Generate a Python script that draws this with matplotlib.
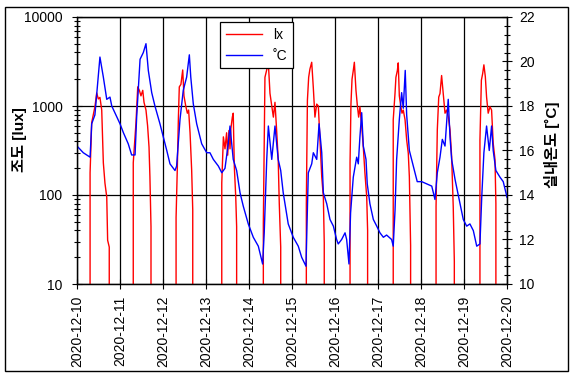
import matplotlib
matplotlib.use('Agg')
import matplotlib.pyplot as plt
import matplotlib.dates as mdates
from matplotlib.ticker import LogLocator, FixedLocator, FixedFormatter, MultipleLocator, NullFormatter
from matplotlib.patches import Rectangle
from datetime import datetime, timedelta

plt.rcParams['font.family'] = ['Liberation Sans', 'Noto Sans CJK KR', 'DejaVu Sans']
plt.rcParams['font.size'] = 10

start = datetime(2020, 12, 10)

# 조도 (lux), 하루 단위 구간; 0 = 야간 (축 아래)
lux_hours = [
    [0, 7.2, 7.3, 8.2, 10.0, 11.0, 11.9, 12.8, 13.8, 14.7, 15.6, 16.6, 17.1, 18.0, 18.4],
    [31.3, 31.4, 32.9, 33.9, 34.8, 35.7, 36.7, 37.4, 38.5, 39.4, 40.2, 40.7, 41.3, 41.9],
    [55.2, 55.3, 56.0, 56.6, 57.1, 58.0, 59.0, 59.7, 60.7, 61.6, 62.3, 63.1, 64.0, 64.6, 65.3],
    [80.7, 80.8, 81.7, 82.6, 83.5, 84.1, 84.8, 85.4, 85.9, 86.7, 87.2, 87.8, 88.6, 89.1, 89.7],
    [103.9, 104.0, 104.5, 104.9, 105.9, 106.8, 107.7, 108.7, 109.6, 110.5, 111.5, 112.3, 112.9, 113.7, 114.8],
    [127.8, 128.0, 128.6, 129.3, 130.0, 131.0, 131.9, 132.8, 133.8, 134.7, 135.6, 136.6, 137.5, 138.0, 138.8],
    [152.0, 152.4, 152.9, 153.5, 154.2, 154.8, 155.7, 156.5, 157.2, 157.9, 158.9, 159.8, 160.7, 161.7, 162.2, 162.8],
    [176.0, 176.5, 177.5, 178.0, 178.8, 179.3, 179.9, 180.7, 181.4, 182.1, 183.1, 184.0, 184.9, 185.5, 186.2, 186.8],
    [200.3, 200.4, 201.1, 201.9, 202.6, 203.5, 204.4, 205.4, 206.3, 207.2, 208.2, 209.1, 210.0, 210.6, 211.1],
    [224.4, 224.9, 225.7, 226.4, 227.1, 227.9, 228.6, 229.5, 230.5, 231.4, 232.3, 233.3, 233.8, 234.2, 240],
]
lux_values = [
    [0, 0, 177, 650, 980, 1400, 1200, 1250, 900, 230, 136, 95, 31, 26, 0],
    [0, 230, 640, 1640, 1500, 1300, 1500, 1100, 900, 600, 345, 160, 44, 0],
    [0, 56, 205, 750, 1640, 1750, 2540, 1300, 1000, 830, 900, 500, 190, 68, 0],
    [0, 136, 450, 330, 500, 280, 530, 330, 560, 750, 830, 210, 95, 44, 0],
    [0, 48, 380, 2100, 2540, 3050, 1390, 1000, 750, 1100, 500, 250, 80, 26, 0],
    [0, 80, 1160, 2100, 2600, 3100, 1600, 750, 1050, 1000, 415, 160, 95, 29, 0],
    [0, 230, 1050, 2000, 2500, 3100, 1500, 1000, 750, 980, 600, 345, 177, 95, 40, 0],
    [0, 700, 1390, 2100, 2500, 3050, 1300, 1000, 830, 900, 700, 415, 295, 160, 27, 0],
    [0, 74, 540, 1260, 1380, 2200, 1380, 830, 900, 760, 540, 270, 73, 18, 0],
    [0, 415, 1950, 2300, 2900, 2140, 1260, 830, 980, 900, 380, 250, 80, 0, 0],
]

# 실내온도 (°C)
temp_hours = [0, 3.5, 7.3, 8.2, 10.0, 12.8, 14.7, 16.6, 18.4, 19.4,
              24.0, 25.9, 28.6, 30.5, 32.4, 33.3, 35.2, 37.0, 38.5, 39.8,
              41.7, 43.5, 46.3, 48.2, 50.1, 51.9, 54.7, 55.6, 57.5, 59.3,
              61.2, 62.7, 63.5, 64.9, 66.8, 69.6, 72.4, 74.2, 76.1, 78.9,
              80.8, 82.6, 84.4, 85.4, 87.2, 89.1, 91.0, 92.8, 95.6, 98.4,
              101.2, 103.6, 104.5, 105.9, 106.8, 108.7, 110.5, 112.3, 113.7, 115.1,
              117.9, 120.7, 123.5, 125.4, 127.8, 129.1, 131.0, 131.9, 133.8, 135.1,
              136.6, 137.5, 139.4, 141.2, 143.1, 144.9, 145.8, 147.7, 149.6, 150.5,
              151.8, 152.7, 154.2, 156.1, 157.0, 157.9, 158.9, 159.8, 161.3, 162.0,
              163.5, 165.4, 167.3, 169.1, 171.0, 172.8, 175.6, 176.5, 177.5, 178.4,
              179.9, 181.2, 182.1, 183.2, 184.0, 185.5, 187.7, 189.9, 192.4, 195.2,
              198.0, 199.8, 201.1, 202.6, 203.9, 205.4, 207.2, 208.2, 209.1, 211.0,
              213.8, 215.6, 217.5, 219.3, 221.2, 223.1, 224.9, 225.9, 227.1, 228.6,
              230.1, 231.4, 232.3, 233.8, 236.1, 237.9, 240.0]
temp_values = [16.2, 15.9, 15.7, 17.2, 17.6, 20.2, 19.3, 18.3, 18.4, 18.0,
               17.2, 16.8, 16.3, 15.8, 15.8, 17.5, 20.1, 20.4, 20.8, 19.6,
               18.6, 18.0, 17.2, 16.6, 16.0, 15.4, 15.1, 15.3, 17.4, 18.7,
               19.3, 20.3, 19.3, 18.1, 17.2, 16.3, 15.9, 15.9, 15.6, 15.3,
               15.0, 15.2, 16.3, 17.1, 15.6, 15.1, 14.1, 13.5, 12.7, 12.1,
               11.7, 10.9, 12.3, 15.6, 17.1, 15.6, 17.1, 15.6, 15.1, 14.1,
               12.7, 12.1, 11.7, 11.2, 10.8, 15.0, 15.4, 15.9, 15.6, 17.2,
               15.9, 14.1, 13.6, 12.9, 12.6, 12.0, 11.8, 12.0, 12.3, 12.0,
               10.9, 13.2, 14.8, 15.7, 15.4, 16.6, 17.7, 16.2, 15.6, 14.5,
               13.6, 12.9, 12.6, 12.3, 12.1, 12.2, 12.0, 11.7, 13.3, 15.6,
               17.4, 18.6, 17.9, 19.6, 17.6, 16.0, 15.3, 14.6, 14.6, 14.5,
               14.4, 13.8, 15.0, 15.7, 16.5, 16.2, 18.3, 16.6, 15.6, 14.7,
               13.6, 12.9, 12.6, 12.7, 12.4, 11.7, 11.8, 13.9, 15.9, 17.1,
               16.0, 17.1, 16.0, 15.1, 14.8, 14.6, 13.9]

lux_ticks = [10, 100, 1000, 10000]
temp_ticks = [10, 12, 14, 16, 18, 20, 22]
day_ticks = [start + timedelta(days=d) for d in range(11)]

lux_t = [start + timedelta(hours=h) for day in lux_hours for h in day]
lux_v = [v for day in lux_values for v in day]
temp_t = [start + timedelta(hours=h) for h in temp_hours]

fig = plt.figure(figsize=(5.75, 3.77), dpi=100)
ax = fig.add_axes([77/575, 1 - 284/377, 430/575, 267/377])
ax2 = ax.twinx()

l1, = ax.plot(lux_t, lux_v, color='#ff0000', lw=1.0, label='lx')
l2, = ax2.plot(temp_t, temp_values, color='#0000ff', lw=1.0, label='˚C')

ax.set_yscale('log')
ax.set_ylim(10, 10000)
ax.yaxis.set_major_locator(FixedLocator(lux_ticks))
ax.yaxis.set_major_formatter(FixedFormatter([str(t) for t in lux_ticks]))
ax.yaxis.set_minor_locator(LogLocator(base=10, subs=range(2, 10)))
ax.yaxis.set_minor_formatter(NullFormatter())

ax2.set_ylim(10, 22)
ax2.yaxis.set_major_locator(FixedLocator(temp_ticks))
ax2.yaxis.set_minor_locator(MultipleLocator(0.4))

ax.set_xlim(day_ticks[0], day_ticks[-1])
ax.xaxis.set_major_locator(mdates.DayLocator())
ax.xaxis.set_major_formatter(mdates.DateFormatter('%Y-%m-%d'))
plt.setp(ax.get_xticklabels(), rotation=90)

ax.grid(True, which='major', color='black', lw=0.9)
for a in (ax, ax2):
    a.tick_params(which='major', direction='inout', length=7, width=0.8, colors='black')
    a.tick_params(which='minor', direction='inout', length=5, width=0.8)
    for s in a.spines.values():
        s.set_linewidth(0.9)
ax.tick_params(axis='y', pad=7)
ax.tick_params(axis='x', pad=5)
ax2.tick_params(axis='y', pad=5)

ax.set_ylabel('조도 [lux]', fontsize=11, fontweight='bold')
ax.yaxis.set_label_coords(-0.116, 0.54)
ax2.set_ylabel('실내온도 [˚C]', fontsize=11, fontweight='bold', rotation=90)
ax2.yaxis.set_label_coords(1.086, 0.52)

leg = ax2.legend([l1, l2], ['lx', '˚C'], loc='upper left', bbox_to_anchor=(0.333, 0.981),
                 borderaxespad=0, fancybox=False, framealpha=1, edgecolor='black',
                 handlelength=2.6, fontsize=10)
leg.get_frame().set_linewidth(0.9)

fig.patches.append(Rectangle((5/575, 1 - 371/377), 563/575, 364/377, transform=fig.transFigure,
                             fill=False, edgecolor='black', lw=1))

fig.savefig('out.png', dpi=100)
